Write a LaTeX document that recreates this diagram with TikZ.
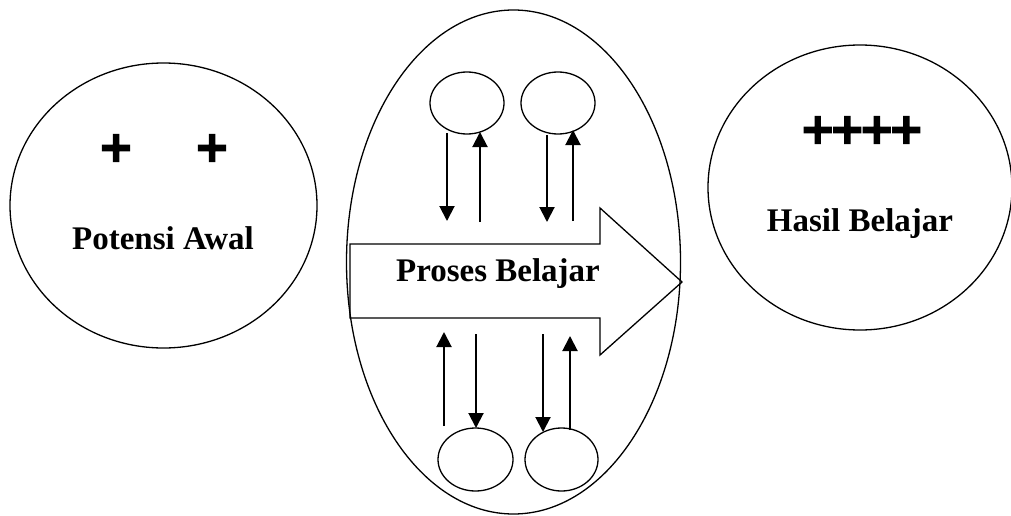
\documentclass[tikz,border=0pt]{standalone}
\usepackage{fontspec}
\setmainfont{Liberation Serif}
\newfontfamily\plusfont[FakeBold=8]{DejaVu Sans}
\usetikzlibrary{arrows.meta,shapes.geometric}
\begin{document}
\begin{tikzpicture}[x=1pt,y=-1pt,
  oval/.style={draw,ellipse,line width=1.3pt,inner sep=0pt},
  lbl/.style={font=\fontsize{33}{38}\selectfont\bfseries,anchor=base,inner sep=0pt},
  pl/.style={font=\plusfont\fontsize{40}{44}\selectfont,inner sep=0pt},
  flow/.style={line width=2pt,-{Triangle[width=15pt,length=15pt]}}]
\useasboundingbox (0,0) rectangle (1011,516);
% big circles
\node[oval,minimum width=307pt,minimum height=285pt] (pa) at (163.5,205.5) {};
\node[oval,minimum width=304pt,minimum height=285pt] (hb) at (860,187.5) {};
\node[oval,minimum width=334pt,minimum height=504pt] (pb) at (513.5,262) {};
% texts
\node[lbl] (tpa) at (163,249) {Potensi Awal};
\node[lbl] (thb) at (860,231) {Hasil Belajar};
\node[pl] (p1) at (116,148) {+};
\node[pl] (p2) at (212,148) {+};
\node[pl] (p4) at (862,130) {+\kern-4pt+\kern-4pt+\kern-4pt+};
% process arrow
\draw[line width=1.3pt,line join=miter] (350,244) -- (600,244) -- (600,208) -- (682,282) -- (600,355) -- (600,318) -- (350,318) -- cycle;
\node[lbl] (tpb) at (498,281) {Proses Belajar};
% small circles
\node[oval,minimum width=74pt,minimum height=62pt] (c1) at (467,103) {};
\node[oval,minimum width=74pt,minimum height=62pt] (c2) at (558,103) {};
\node[oval,minimum width=75pt,minimum height=63pt] (c3) at (475.5,459.5) {};
\node[oval,minimum width=73pt,minimum height=63pt] (c4) at (561.5,459.5) {};
% arrow end points
\coordinate (a1s) at (447,133); \coordinate (a1e) at (447,221);
\coordinate (a2s) at (480,222); \coordinate (a2e) at (480,132);
\coordinate (a3s) at (547,135); \coordinate (a3e) at (547,222);
\coordinate (a4s) at (573,221); \coordinate (a4e) at (573,130);
\coordinate (a5s) at (444,426); \coordinate (a5e) at (444,332);
\coordinate (a6s) at (476,334); \coordinate (a6e) at (476,428);
\coordinate (a7s) at (543,334); \coordinate (a7e) at (543,432);
\coordinate (a8s) at (570,430); \coordinate (a8e) at (570,336);
\draw[flow] (a1s) -- (a1e);
\draw[flow] (a2s) -- (a2e);
\draw[flow] (a3s) -- (a3e);
\draw[flow] (a4s) -- (a4e);
\draw[flow] (a5s) -- (a5e);
\draw[flow] (a6s) -- (a6e);
\draw[flow] (a7s) -- (a7e);
\draw[flow] (a8s) -- (a8e);
\end{tikzpicture}
\end{document}
